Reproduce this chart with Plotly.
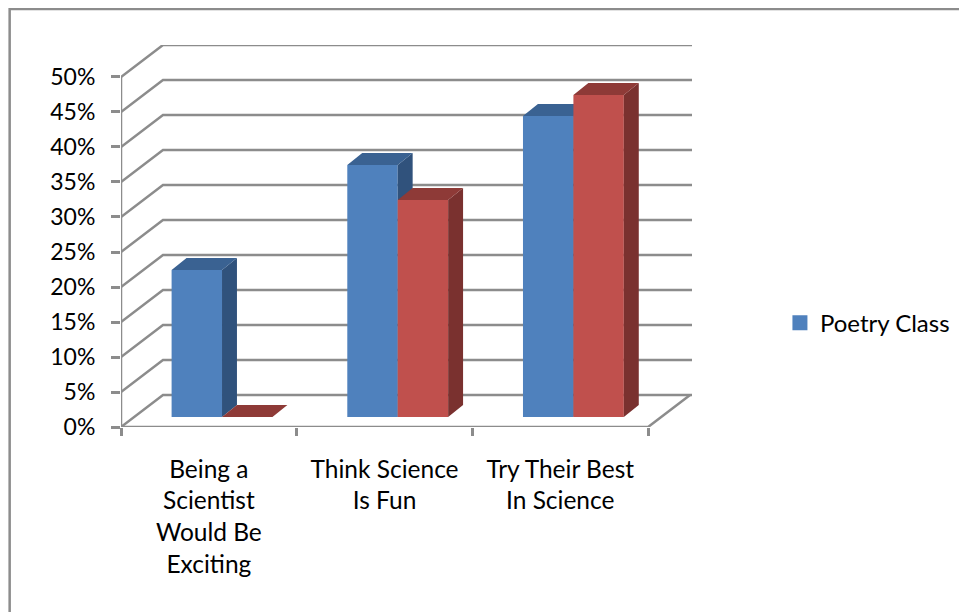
import plotly.graph_objects as go

categories = ["Being a<br>Scientist<br>Would Be<br>Exciting", "Think Science<br>Is Fun", "Try Their Best<br>In Science"]
poetry_class = [21, 36, 43]
second_series = [0, 31, 46]
y_ticks = [0, 5, 10, 15, 20, 25, 30, 35, 40, 45, 50]
y_labels = [f"{v}%" for v in y_ticks]

BLUE, BLUE_SIDE, BLUE_TOP = "#4F81BD", "#30527C", "#3A6292"
RED, RED_SIDE, RED_TOP = "#C0504D", "#7A312F", "#8E3A37"
GRID = "#8C8C8C"
FONT_X = dict(family="Lato, Carlito, sans-serif", size=24.5, color="#000000")
FONT_Y = dict(family="Lato, Carlito, sans-serif", size=23, color="#000000")

# Chart geometry in axis units (1 x unit = one category, 1 y unit = 1 %)
WALL_DX, WALL_DY = 0.239, 4.57
XMAX, YMAX = 3.25, 54.57
BAR_W, BAR_BASE, BAR_SHIFT = 0.287, 1.43, 0.575
BAR_DX, BAR_DY = 0.085, 1.71


def faces(left, values):
    side_x, side_y, top_x, top_y = [], [], [], []
    for i, v in enumerate(values):
        x0 = i + left
        x1 = x0 + BAR_W
        t = v + BAR_BASE
        if v > 0:
            side_x += [x1, x1 + BAR_DX, x1 + BAR_DX, x1, x1, None]
            side_y += [BAR_BASE, BAR_BASE + BAR_DY, t + BAR_DY, t, BAR_BASE, None]
        top_x += [x0, x0 + BAR_DX, x1 + BAR_DX, x1, x0, None]
        top_y += [t, t + BAR_DY, t + BAR_DY, t, t, None]
    return side_x, side_y, top_x, top_y


def poly(x, y, color, z):
    return go.Scatter(x=x, y=y, mode="lines", fill="toself", fillcolor=color,
                      line=dict(width=0, color=color), hoverinfo="skip",
                      showlegend=False, zorder=z, cliponaxis=False)


fig = go.Figure()

# Wall and floor gridlines
gx, gy = [], []
for v in y_ticks:
    gx += [0, WALL_DX, XMAX, None]
    gy += [v, v + WALL_DY, v + WALL_DY, None]
fig.add_trace(go.Scatter(x=gx, y=gy, mode="lines", line=dict(color=GRID, width=2.5),
                         hoverinfo="skip", showlegend=False, zorder=0, cliponaxis=False))
# Axis lines and floor edge
fig.add_trace(go.Scatter(x=[0, 0, None, 0, 3, WALL_DX + 3],
                         y=[y_ticks[-1], 0, None, 0, 0, WALL_DY],
                         mode="lines", line=dict(color=GRID, width=2.5),
                         hoverinfo="skip", showlegend=False, zorder=0, cliponaxis=False))

xs = [i + BAR_SHIFT for i in range(len(poetry_class))]
fig.add_trace(go.Bar(x=xs, y=poetry_class, base=BAR_BASE, width=BAR_W, offset=-BAR_W,
                     marker=dict(color=BLUE, line=dict(width=0)), showlegend=False,
                     hoverinfo="skip", zorder=1))
s = faces(BAR_SHIFT - BAR_W, poetry_class)
fig.add_trace(poly(s[0], s[1], BLUE_SIDE, 2))
fig.add_trace(poly(s[2], s[3], BLUE_TOP, 2))
fig.add_trace(go.Bar(x=xs, y=second_series, base=BAR_BASE, width=BAR_W, offset=0,
                     marker=dict(color=RED, line=dict(width=0)), showlegend=False,
                     hoverinfo="skip", zorder=3))
s = faces(BAR_SHIFT, second_series)
fig.add_trace(poly(s[0], s[1], RED_SIDE, 4))
fig.add_trace(poly(s[2], s[3], RED_TOP, 4))
# Legend key
fig.add_trace(go.Scatter(x=[None], y=[None], mode="markers", name="Poetry Class",
                         marker=dict(symbol="square", size=15, color=BLUE)))

fig.update_layout(
    width=967, height=612, autosize=False,
    margin=dict(l=113, r=283, t=37, b=193, autoexpand=False),
    paper_bgcolor="white", plot_bgcolor="white",
    barmode="overlay", font=FONT_Y,
    legend=dict(x=1.154, y=0.272, xanchor="left", yanchor="middle",
                font=dict(size=24), bgcolor="rgba(0,0,0,0)", itemclick=False),
    showlegend=True,
    xaxis=dict(range=[0, XMAX], showgrid=False, zeroline=False, showline=False,
               tickmode="array", tickvals=[0.5, 1.5, 2.5], ticktext=categories,
               ticks="", ticklabelstandoff=25, tickfont=FONT_X, tickangle=0,
               minor=dict(tickmode="array", tickvals=[0, 1, 2, 3], ticks="outside",
                          ticklen=8, tickwidth=2.5, tickcolor=GRID, showgrid=False)),
    yaxis=dict(range=[0, YMAX], showgrid=False, zeroline=False, showline=False,
               tickmode="array", tickvals=y_ticks, ticktext=y_labels,
               ticks="outside", ticklen=9, tickwidth=2.5, tickcolor=GRID,
               ticklabelstandoff=11, tickfont=FONT_Y),
    shapes=[dict(type="path", xref="paper", yref="paper", layer="below",
                 path="M -0.195 -0.6 L -0.195 1.0942 L 1.6 1.0942",
                 line=dict(color=GRID, width=2.5))],
)

fig.write_html("out.html")
